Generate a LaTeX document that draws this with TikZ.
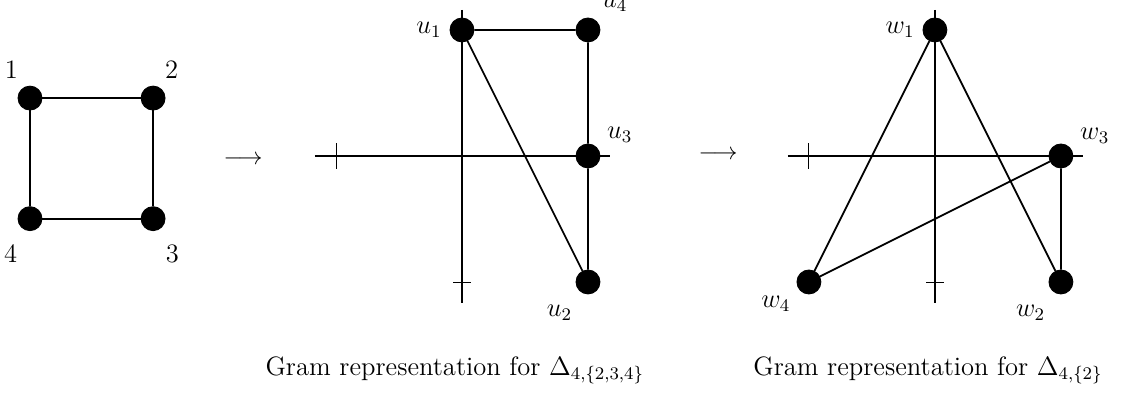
\documentclass[tikz,border=0pt]{standalone}
\usepackage{amsmath}
\usepackage{tikz}
\usetikzlibrary{positioning,calc}
\tikzset{
  vertex/.style={circle,fill=black,draw=black,minimum size=3.8mm,inner sep=0pt,
    label distance=-1pt},
  every label/.style={font=\large},
  edge/.style={thick,draw=black},
  axis/.style={thick,draw=black},
  tick/.style={thin,draw=black},
  caption/.style={font=\large,align=center}
}

\begin{document}
\begin{tikzpicture}
  \useasboundingbox (0,0) rectangle (17.905,6.317);
  % the 4-cycle
  \node[vertex,label={[label distance=0pt]110:$1$}] (v1) at (0.476,4.76) {};
  \node[vertex,label={[label distance=0pt]70:$2$},right=1.56cm of v1] (v2) {};
  \node[vertex,label={[label distance=3pt]285:$3$},below=1.52cm of v2] (v3) {};
  \node[vertex,label={[label distance=3pt]255:$4$},below=1.52cm of v1] (v4) {};
  \draw[edge] (v1)--(v2) (v2)--(v3) (v3)--(v4) (v4)--(v1);

  \node[font=\fontsize{11}{13}\selectfont] (arr1) at (3.86,3.78) {$\longrightarrow$};

  % first Gram representation
  \begin{scope}[shift={(7.333,3.841)},x=2cm,y=2cm]
    \coordinate (ul) at (-1.167,0); \coordinate (ur) at (1.175,0);
    \coordinate (ut) at (0,1.159); \coordinate (ub) at (0,-1.167);
    \draw[axis] (ul)--(ur); \draw[axis] (ut)--(ub);
    \draw[tick] (-1,-0.1)--(-1,0.1);
    \draw[tick] (-0.07,-1)--(0.07,-1);
    \node[vertex,label={left:$u_1$}] (u1) at (0,1) {};
    \node[vertex,label={60:$u_4$}] (u4) at (1,1) {};
    \node[vertex,label={25:$u_3$}] (u3) at (1,0) {};
    \node[vertex,label={[label distance=2pt]242:$u_2$}] (u2) at (1,-1) {};
    \draw[edge] (u1)--(u4) (u4)--(u3) (u3)--(u2) (u1)--(u2);
  \end{scope}

  \node[font=\fontsize{11}{13}\selectfont] (arr2) at (11.4,3.86) {$\longrightarrow$};

  % second Gram representation
  \begin{scope}[shift={(14.84,3.841)},x=2cm,y=2cm]
    \coordinate (wl) at (-1.167,0); \coordinate (wr) at (1.175,0);
    \coordinate (wt) at (0,1.159); \coordinate (wb) at (0,-1.167);
    \draw[axis] (wl)--(wr); \draw[axis] (wt)--(wb);
    \draw[tick] (-1,-0.1)--(-1,0.1);
    \draw[tick] (-0.07,-1)--(0.07,-1);
    \node[vertex,label={left:$w_1$}] (w1) at (0,1) {};
    \node[vertex,label={23:$w_3$}] (w3) at (1,0) {};
    \node[vertex,label={[label distance=2pt]242:$w_2$}] (w2) at (1,-1) {};
    \node[vertex,label={211:$w_4$}] (w4) at (-1,-1) {};
    \draw[edge] (w1)--(w4) (w1)--(w2) (w4)--(w3) (w3)--(w2);
  \end{scope}

  \node[caption] (cap1) at (7.22,0.44) {Gram representation for $\Delta_{4,\{2,3,4\}}$};
  \node[caption] (cap2) at (14.73,0.44) {Gram representation for $\Delta_{4,\{2\}}$};
\end{tikzpicture}
\end{document}
